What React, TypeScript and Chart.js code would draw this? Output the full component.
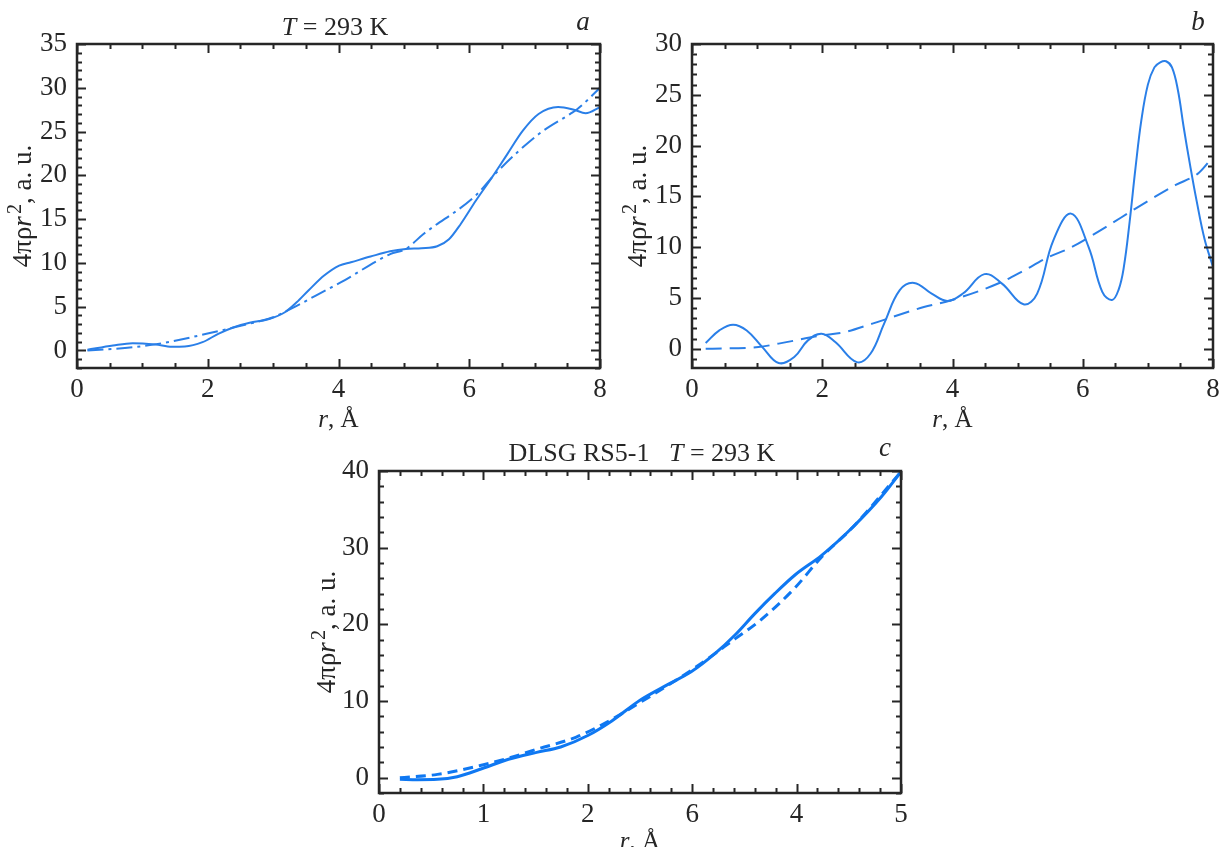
import React, { useEffect, useRef } from "react";
import { Chart, registerables } from "chart.js";
Chart.register(...registerables);

// ---------- Panel a data ----------
const aSolidR = [0.16, 0.55, 0.85, 1.2, 1.45, 1.65, 1.92, 2.16, 2.4, 2.64, 2.94, 3.18, 3.36, 3.54, 3.78, 4.01, 4.19, 4.49, 4.79, 5.03, 5.27, 5.51, 5.69, 5.87, 6.1, 6.35, 6.58, 6.82, 7.06, 7.36, 7.6, 7.78, 8.0];
const aSolidY = [0.08, 0.57, 0.84, 0.68, 0.42, 0.45, 0.95, 1.9, 2.66, 3.16, 3.6, 4.37, 5.5, 6.85, 8.56, 9.7, 10.08, 10.73, 11.33, 11.6, 11.68, 11.9, 12.7, 14.45, 17.1, 19.8, 22.4, 25.1, 27.0, 27.8, 27.5, 27.1, 27.8];
const aDashR = [0.16, 0.9, 1.33, 1.98, 2.52, 3.0, 3.36, 3.66, 4.04, 4.79, 5.03, 5.3, 6.1, 6.4, 7.06, 7.54, 7.66, 8.0];
const aDashY = [0, 0.4, 0.87, 1.9, 2.85, 3.8, 5.1, 6.3, 7.8, 11.0, 11.6, 13.3, 17.7, 20.2, 24.7, 27.0, 27.6, 30.0];
const aXTicks = [0, 2, 4, 6, 8];
const aYTicks = [0, 5, 10, 15, 20, 25, 30, 35];

// ---------- Panel b data ----------
const bSolidR = [0.21, 0.42, 0.63, 0.84, 1.08, 1.33, 1.57, 1.78, 1.99, 2.2, 2.53, 2.74, 2.95, 3.19, 3.41, 3.68, 3.92, 4.16, 4.49, 4.76, 5.09, 5.3, 5.55, 5.82, 6.09, 6.3, 6.45, 6.55, 6.63, 6.72, 6.81, 6.9, 7.0, 7.1, 7.19, 7.28, 7.37, 7.46, 7.55, 7.65, 7.75, 7.87, 8.0];
const bSolidY = [0.56, 1.8, 2.37, 1.8, 0.16, -1.41, -0.82, 0.82, 1.48, 0.66, -1.32, -0.5, 2.47, 5.76, 6.48, 5.43, 4.7, 5.43, 7.34, 6.41, 4.37, 5.43, 10.7, 13.3, 10.0, 5.6, 4.8, 5.8, 8.0, 12.5, 17.8, 22.5, 26.0, 27.7, 28.2, 28.3, 27.7, 25.5, 21.8, 18.0, 14.5, 10.8, 8.06];
const bDashR = [0.21, 1.02, 1.33, 1.99, 2.35, 2.77, 3.56, 3.98, 4.76, 5.06, 5.48, 5.79, 6.36, 6.81, 7.42, 7.78, 8.0];
const bDashY = [0, 0.16, 0.5, 1.3, 1.64, 2.47, 4.1, 4.77, 6.58, 7.57, 9.04, 9.87, 12.0, 13.8, 16.1, 17.3, 18.9];
const bXTicks = [0, 2, 4, 6, 8];
const bYTicks = [0, 5, 10, 15, 20, 25, 30];

// ---------- Panel c data ----------
const cSolidR = [0.2, 0.37, 0.56, 0.75, 0.99, 1.24, 1.51, 1.74, 2.0, 2.23, 2.5, 2.76, 2.99, 3.22, 3.41, 3.6, 3.79, 3.99, 4.24, 4.54, 4.81, 5.0];
const cSolidY = [-0.22, -0.26, -0.22, 0.13, 1.2, 2.4, 3.3, 4.0, 5.5, 7.4, 10.1, 12.1, 13.8, 16.2, 18.6, 21.4, 24.0, 26.5, 29.0, 32.7, 36.6, 39.9];
const cDashR = [0.2, 0.56, 0.99, 1.24, 1.51, 1.89, 2.23, 2.5, 2.99, 3.41, 3.65, 3.98, 4.24, 4.54, 5.0];
const cDashY = [0, 0.43, 1.65, 2.55, 3.7, 5.3, 7.6, 9.8, 14.0, 18.1, 20.5, 24.7, 28.8, 32.7, 39.9];
const cXTicks = [0, 1, 2, 3, 4, 5];
const cXTickLabels = ["0", "1", "2", "6", "4", "5"];
const cYTicks = [0, 10, 20, 30, 40];

const FONT = "'Liberation Serif', 'Times New Roman', serif";
const INK = "#262626";
const TICK_SIZE = 27;
const TITLE_SIZE = 26;
const XTITLE_SIZE = 25;
const YTITLE_SIZE = 27;

type Part = { t: string; it?: boolean; sup?: boolean };
type Series = { r: number[]; y: number[]; dash: number[]; color: string; width: number; smooth?: boolean };
type Panel = {
  key: string;
  left: number; top: number; w: number; h: number;
  area: { l: number; t: number; r: number; b: number };
  xMin: number; xMax: number; yMin: number; yMax: number;
  xTicks: number[]; xLabels?: string[]; yTicks: number[];
  xMinor: number; yMinor: number;
  series: Series[];
  title?: Part[]; titleX?: number; titleY?: number;
  letter: string; letterX: number; letterY: number;
  yTitleX: number; xTitleY: number;
};

const yTitleParts: Part[] = [{ t: "4πρ" }, { t: "r", it: true }, { t: "2", sup: true }, { t: ", a. u." }];
const xTitleParts: Part[] = [{ t: "r", it: true }, { t: ", Å" }];

function setFont(ctx: CanvasRenderingContext2D, p: Part, size: number) {
  const s = p.sup ? size * 0.75 : size;
  ctx.font = `${p.it ? "italic " : ""}${s}px ${FONT}`;
}

function drawRich(ctx: CanvasRenderingContext2D, parts: Part[], cx: number, cy: number, size: number, rotate: boolean) {
  ctx.save();
  ctx.translate(cx, cy);
  if (rotate) ctx.rotate(-Math.PI / 2);
  ctx.textBaseline = "alphabetic";
  ctx.textAlign = "left";
  ctx.fillStyle = INK;
  let total = 0;
  for (const p of parts) { setFont(ctx, p, size); total += ctx.measureText(p.t).width + (p.sup ? 2 : 0); }
  let x = -total / 2;
  for (const p of parts) {
    setFont(ctx, p, size);
    ctx.fillText(p.t, x + (p.sup ? 2 : 0), p.sup ? -size * 0.38 : 0);
    x += ctx.measureText(p.t).width + (p.sup ? 2 : 0);
  }
  ctx.restore();
}

function decorPlugin(p: Panel) {
  return {
    id: "decor_" + p.key,
    afterDraw(chart: any) {
      const ctx: CanvasRenderingContext2D = chart.ctx;
      const xs = chart.scales.x, ys = chart.scales.y;
      const { left, right, top, bottom } = chart.chartArea;
      ctx.save();
      ctx.strokeStyle = INK;
      ctx.lineWidth = 2;
      const isMajor = (v: number, arr: number[]) => arr.some((t) => Math.abs(t - v) < 1e-6);
      const nx = Math.round((p.xMax - p.xMin) / p.xMinor);
      for (let i = 0; i <= nx; i++) {
        const v = p.xMin + i * p.xMinor;
        const len = isMajor(v, p.xTicks) ? 9 : 5;
        const px = Math.round(xs.getPixelForValue(v)) + 0.5;
        ctx.beginPath();
        ctx.moveTo(px, bottom); ctx.lineTo(px, bottom - len);
        ctx.moveTo(px, top); ctx.lineTo(px, top + len);
        ctx.stroke();
      }
      const y0 = Math.ceil(p.yMin / p.yMinor) * p.yMinor;
      const ny = Math.round((p.yMax - y0) / p.yMinor);
      for (let i = 0; i <= ny; i++) {
        const v = y0 + i * p.yMinor;
        const len = isMajor(v, p.yTicks) ? 9 : 5;
        const py = Math.round(ys.getPixelForValue(v)) + 0.5;
        ctx.beginPath();
        ctx.moveTo(left, py); ctx.lineTo(left + len, py);
        ctx.moveTo(right, py); ctx.lineTo(right - len, py);
        ctx.stroke();
      }
      ctx.lineWidth = 2.5;
      ctx.strokeRect(left, top, right - left, bottom - top);
      // texts
      if (p.title) drawRich(ctx, p.title, p.titleX!, p.titleY!, TITLE_SIZE, false);
      drawRich(ctx, [{ t: p.letter, it: true }], p.letterX, p.letterY, 27, false);
      drawRich(ctx, yTitleParts, p.yTitleX, (top + bottom) / 2, YTITLE_SIZE, true);
      drawRich(ctx, xTitleParts, (left + right) / 2, p.xTitleY, XTITLE_SIZE, false);
      ctx.restore();
    },
  };
}

const panels: Panel[] = [
  {
    key: "a", left: 0, top: 0, w: 613, h: 440,
    area: { l: 77, t: 44, r: 600, b: 368 },
    xMin: 0, xMax: 8, yMin: -2, yMax: 35,
    xTicks: aXTicks, yTicks: aYTicks, xMinor: 0.5, yMinor: 1,
    series: [
      { r: aSolidR, y: aSolidY, dash: [], color: "#2a7fe8", width: 2 },
      { r: aDashR, y: aDashY, dash: [16, 5, 3, 5], color: "#2a7fe8", width: 2 },
    ],
    title: [{ t: "T", it: true }, { t: " = 293 K" }], titleX: 335, titleY: 35,
    letter: "a", letterX: 583, letterY: 30,
    yTitleX: 31, xTitleY: 427,
  },
  {
    key: "b", left: 613, top: 0, w: 613, h: 440,
    area: { l: 79, t: 44, r: 600, b: 368 },
    xMin: 0, xMax: 8, yMin: -1.9, yMax: 30,
    xTicks: bXTicks, yTicks: bYTicks, xMinor: 0.5, yMinor: 1,
    series: [
      { r: bSolidR, y: bSolidY, dash: [], color: "#2a7fe8", width: 2, smooth: true },
      { r: bDashR, y: bDashY, dash: [16, 8], color: "#2a7fe8", width: 2 },
    ],
    letter: "b", letterX: 585, letterY: 30,
    yTitleX: 33, xTitleY: 427,
  },
  {
    key: "c", left: 290, top: 430, w: 636, h: 417,
    area: { l: 89, t: 41, r: 611, b: 363 },
    xMin: 0, xMax: 5, yMin: -2, yMax: 40,
    xTicks: cXTicks, xLabels: cXTickLabels, yTicks: cYTicks, xMinor: 0.2, yMinor: 2,
    series: [
      { r: cSolidR, y: cSolidY, dash: [], color: "#0f78f2", width: 3 },
      { r: cDashR, y: cDashY, dash: [10, 6], color: "#0f78f2", width: 3 },
    ],
    title: [{ t: "DLSG RS5-1   " }, { t: "T", it: true }, { t: " = 293 K" }], titleX: 352, titleY: 31,
    letter: "c", letterX: 595, letterY: 26,
    yTitleX: 45, xTitleY: 419,
  },
];

function PanelChart({ p }: { p: Panel }) {
  const ref = useRef<HTMLCanvasElement | null>(null);
  useEffect(() => {
    if (!ref.current) return;
    const chart = new Chart(ref.current, {
      type: "line",
      data: {
        datasets: p.series.map((s) => ({
          data: s.r.map((r, i) => ({ x: r, y: s.y[i] })),
          borderColor: s.color,
          borderWidth: s.width,
          borderDash: s.dash,
          pointRadius: 0,
          fill: false,
          tension: 0.4,
          cubicInterpolationMode: s.smooth ? ("default" as const) : ("monotone" as const),
        })),
      },
      options: {
        animation: false,
        responsive: false,
        devicePixelRatio: 1,
        layout: { padding: { top: p.area.t, right: p.w - p.area.r, left: 0, bottom: 0 } },
        plugins: { legend: { display: false }, tooltip: { enabled: false }, title: { display: false } },
        scales: {
          x: {
            type: "linear",
            min: p.xMin, max: p.xMax,
            afterBuildTicks: (s: any) => { s.ticks = p.xTicks.map((v) => ({ value: v })); },
            afterFit: (s: any) => { s.height = p.h - p.area.b; },
            grid: { display: false, drawTicks: false },
            border: { display: false },
            ticks: {
              autoSkip: false, maxRotation: 0, padding: 6, color: INK,
              font: { family: FONT, size: TICK_SIZE },
              callback: (v: any, i: number) => (p.xLabels ? p.xLabels[i] : String(v)),
            },
          },
          y: {
            type: "linear",
            min: p.yMin, max: p.yMax,
            afterBuildTicks: (s: any) => { s.ticks = p.yTicks.map((v) => ({ value: v })); },
            afterFit: (s: any) => { s.width = p.area.l; },
            grid: { display: false, drawTicks: false },
            border: { display: false },
            ticks: {
              autoSkip: false, padding: 10, color: INK,
              font: { family: FONT, size: TICK_SIZE },
              callback: (v: any) => String(v),
            },
          },
        },
      },
      plugins: [decorPlugin(p)],
    } as any);
    return () => chart.destroy();
  }, [p]);
  return (
    <canvas
      ref={ref}
      width={p.w}
      height={p.h}
      style={{ position: "absolute", left: p.left, top: p.top, width: p.w, height: p.h }}
    />
  );
}

export default function App() {
  return (
    <div style={{ position: "absolute", left: 0, top: 0, width: 1226, height: 847, background: "#fff", overflow: "hidden" }}>
      {panels.map((p) => (
        <PanelChart key={p.key} p={p} />
      ))}
    </div>
  );
}
